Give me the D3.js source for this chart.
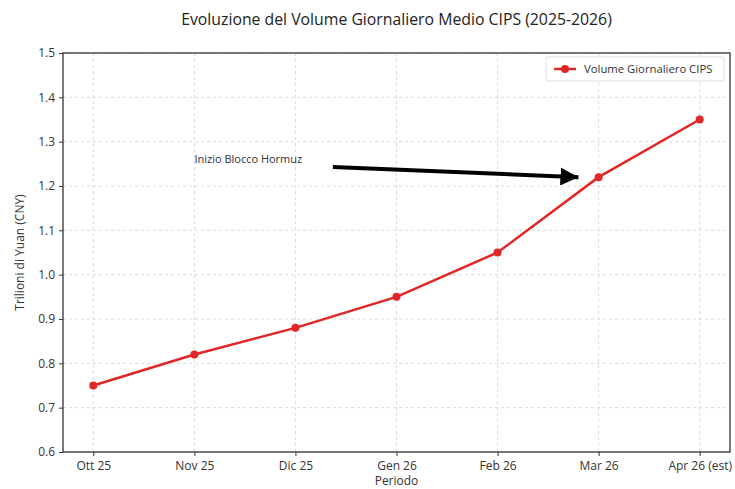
<!DOCTYPE html>
<html><head><meta charset="utf-8">
<script src="https://cdn.jsdelivr.net/npm/d3@7"></script>
<style>body{margin:0;background:#fff}svg{display:block}text{font-family:"Open Sans",sans-serif}</style>
</head><body><svg id="c" width="735" height="489"></svg>
<script>
const categories = ["Ott 25","Nov 25","Dic 25","Gen 26","Feb 26","Mar 26","Apr 26 (est)"];
const volumes = [0.75, 0.82, 0.88, 0.95, 1.05, 1.22, 1.35];
const yTicks = [0.6,0.7,0.8,0.9,1.0,1.1,1.2,1.3,1.4,1.5];
const seriesName = "Volume Giornaliero CIPS";
const title = "Evoluzione del Volume Giornaliero Medio CIPS (2025-2026)";
const annotationText = "Inizio Blocco Hormuz";

const svg = d3.select("#c");
const m = {l:63, r:5, t:53, b:37};
const W = 735, H = 489;
const x = d3.scaleLinear().domain([-0.3, categories.length-1+0.3]).range([m.l, W-m.r]);
const y = d3.scaleLinear().domain([0.6,1.5]).range([H-m.b, m.t]);

// grid
const g = svg.append("g");
g.selectAll(".vg").data(categories).enter().append("line")
 .attr("x1",(d,i)=>x(i)).attr("x2",(d,i)=>x(i)).attr("y1",m.t).attr("y2",H-m.b)
 .attr("stroke","#d0d0d0").attr("stroke-dasharray","3,3").attr("stroke-width",0.8);
g.selectAll(".hg").data(yTicks).enter().append("line")
 .attr("x1",m.l).attr("x2",W-m.r).attr("y1",d=>y(d)).attr("y2",d=>y(d))
 .attr("stroke","#d0d0d0").attr("stroke-dasharray","3,3").attr("stroke-width",0.8);

// axes
const xAxis = d3.axisBottom(x).tickValues(d3.range(categories.length)).tickFormat(i=>categories[i]).tickSize(4).tickPadding(5);
const yAxis = d3.axisLeft(y).tickValues(yTicks).tickFormat(d3.format(".1f")).tickSize(4).tickPadding(4);
const gx = svg.append("g").attr("transform",`translate(0,${H-m.b})`).call(xAxis);
const gy = svg.append("g").attr("transform",`translate(${m.l},0)`).call(yAxis);
[gx,gy].forEach(a=>{a.select(".domain").remove();a.selectAll("text").attr("font-size",12).attr("fill","#333").style("font-family","'Open Sans',sans-serif");a.selectAll("line").attr("stroke","#333");});

// frame
svg.append("rect").attr("x",m.l).attr("y",m.t).attr("width",W-m.r-m.l).attr("height",H-m.b-m.t)
 .attr("fill","none").attr("stroke","#333").attr("stroke-width",1.3);

// line
const line = d3.line().x((d,i)=>x(i)).y(d=>y(d));
svg.append("path").datum(volumes).attr("d",line).attr("fill","none").attr("stroke","#e02626").attr("stroke-width",2.5);
svg.selectAll(".pt").data(volumes).enter().append("circle")
 .attr("cx",(d,i)=>x(i)).attr("cy",d=>y(d)).attr("r",4).attr("fill","#e02626");

// annotation
svg.append("defs").append("marker").attr("id","ah").attr("viewBox","0 0 10 10").attr("refX",10).attr("refY",5)
 .attr("markerWidth",4.5).attr("markerHeight",4.5).attr("orient","auto").attr("markerUnits","strokeWidth")
 .append("path").attr("d","M0,0 L10,5 L0,10 z").attr("fill","#000");
svg.append("text").attr("x",x(1)).attr("y",y(1.252)).attr("font-size",11).attr("fill","#333").text(annotationText);
svg.append("line").attr("x1",x(2.37)).attr("y1",y(1.243)).attr("x2",x(4.8)).attr("y2",y(1.22))
 .attr("stroke","#000").attr("stroke-width",4).attr("marker-end","url(#ah)");

// legend
const lg = svg.append("g").attr("transform",`translate(${W-m.r-184},${m.t+4})`);
lg.append("rect").attr("width",178).attr("height",24).attr("rx",2).attr("fill","#fff").attr("stroke","#ddd");
lg.append("line").attr("x1",8).attr("x2",30).attr("y1",12).attr("y2",12).attr("stroke","#e02626").attr("stroke-width",2.5);
lg.append("circle").attr("cx",19).attr("cy",12).attr("r",4).attr("fill","#e02626");
lg.append("text").attr("x",38).attr("y",16).attr("font-size",11.3).attr("fill","#333").text(seriesName);

// titles
svg.append("text").attr("x",(m.l+W-m.r)/2).attr("y",25).attr("text-anchor","middle").attr("font-size",15.8).attr("fill","#222").text(title);
svg.append("text").attr("transform",`translate(24,${(m.t+H-m.b)/2}) rotate(-90)`).attr("text-anchor","middle").attr("font-size",12).attr("fill","#333").text("Trilioni di Yuan (CNY)");
svg.append("text").attr("x",x(3)).attr("y",H-4).attr("text-anchor","middle").attr("font-size",12).attr("fill","#333").text("Periodo");
</script></body></html>
